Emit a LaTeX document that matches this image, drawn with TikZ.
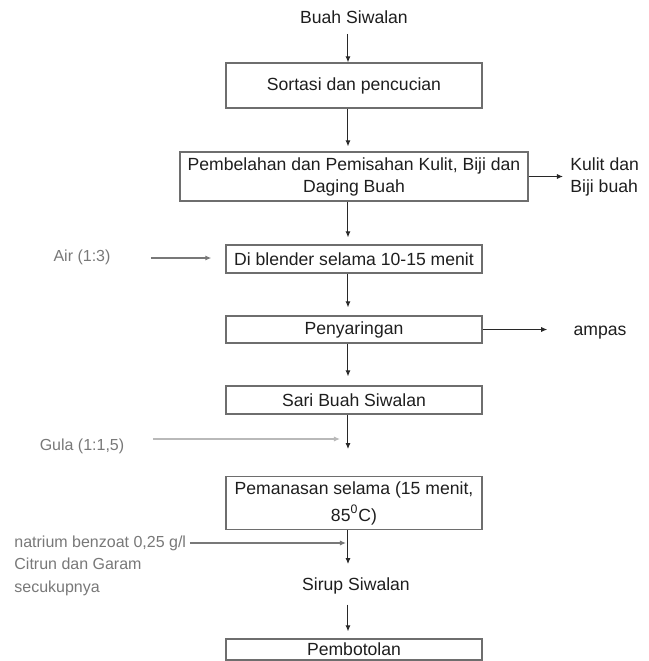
\documentclass[tikz,border=0pt]{standalone}
\usepackage{fontspec}
\setmainfont{Liberation Sans}
\usepackage{tikz}
\usetikzlibrary{arrows.meta}
\usepackage{xcolor}
\definecolor{txtclr}{RGB}{30, 30, 30}
\definecolor{sideclr}{RGB}{120,120,120}
\definecolor{boxclr}{RGB}{110,110,110}
\definecolor{lineclr}{RGB}{40, 40, 40}
\definecolor{liteclr}{RGB}{185,185,185}
\tikzset{
  % Kotak proses
  procbox/.style  = {draw=boxclr, line width=0.7pt, minimum width=128pt,
                     inner sep=1pt, align=center, text=txtclr,
                     font=\fontsize{8.8}{11}\selectfont},
  % Teks biasa dan teks samping
  lab/.style      = {inner sep=1pt, text=txtclr, font=\fontsize{8.8}{11}\selectfont},
  sidelab/.style  = {inner sep=1pt, text=sideclr, align=left,
                     font=\fontsize{8}{11.3}\selectfont},
  % Panah
  arr/.style      = {-{Latex[length=3pt,width=2.6pt]}, line width=0.5pt, lineclr},
  arrgray/.style  = {-{Latex[length=3pt,width=2.6pt]}, line width=0.6pt, sideclr},
  arrlite/.style  = {-{Latex[length=3pt,width=2.6pt]}, line width=0.7pt, liteclr},
}
\begin{document}
\begin{tikzpicture}[x=0.5pt, y=-0.5pt]
  \useasboundingbox (0,0) rectangle (649,661);
  % Garis alir utama
  \coordinate (spine) at (348,0);
  % Bahan dan kotak proses
  \node[lab] (buah) at (354,17) {Buah Siwalan};
  \node[procbox, minimum height=22.5pt] (sortasi) at (354,85.5) {Sortasi dan pencucian};
  \node[procbox, minimum width=174pt, minimum height=24.5pt] (belah) at (354,176.5)
    {Pembelahan dan Pemisahan Kulit, Biji dan\\Daging Buah};
  \node[procbox, minimum height=14pt] (blender) at (354,259) {Di blender selama 10-15 menit};
  \node[procbox, minimum height=13.5pt] (saring) at (354,329.5) {Penyaringan};
  \node[procbox, minimum height=14pt] (sari) at (354,400) {Sari Buah Siwalan};
  \node[procbox, minimum height=26.5pt, font=\fontsize{8.8}{13.5}\selectfont] (panas) at (354,503)
    {Pemanasan selama (15 menit,\\85\textsuperscript{0}C)};
  \node[lab] (sirup) at (356,586) {Sirup Siwalan};
  \node[procbox, minimum height=10.5pt] (botol) at (354,649.5) {Pembotolan};
  % Keluaran samping
  \node[lab, anchor=west, align=left] (kulit) at (568,177) {Kulit dan\\Biji buah};
  \node[lab] (ampas) at (600,333) {ampas};
  % Bahan tambahan
  \node[sidelab] (air) at (82,257) {Air (1:3)};
  \node[sidelab] (gula) at (82,446) {Gula (1:1,5)};
  \node[sidelab, anchor=north west] (natrium) at (12,533)
    {natrium benzoat 0,25 g/l\\Citrun dan Garam\\secukupnya};
  % Titik bebas
  \coordinate (gulatip) at (348,449);
  \coordinate (panastip) at (348,564);
  \coordinate (airout) at (151,258);
  \coordinate (gulaout) at (153,439);
  \coordinate (gulain) at (340,439);
  \coordinate (natout) at (190,543);
  \coordinate (natin) at (346,543);
  % Panah utama
  \draw[arr, shorten <=4pt] (buah.south -| spine) -- (sortasi.north -| spine);
  \draw[arr, shorten >=2.5pt] (sortasi.south -| spine) -- (belah.north -| spine);
  \draw[arr, shorten >=3.5pt] (belah.south -| spine) -- (blender.north -| spine);
  \draw[arr, shorten >=4pt] (blender.south -| spine) -- (saring.north -| spine);
  \draw[arr, shorten >=4.5pt] (saring.south -| spine) -- (sari.north -| spine);
  \draw[arr] (sari.south -| spine) -- (gulatip);
  \draw[arr] (panas.south -| spine) -- (panastip);
  \draw[arr, shorten <=4pt, shorten >=3.5pt] (sirup.south -| spine) -- (botol.north -| spine);
  % Panah samping
  \draw[arr, shorten >=2.5pt] (belah.east) -- (kulit.west |- belah.east);
  \draw[arr, shorten >=12pt] (saring.east) -- (ampas.west |- saring.east);
  \draw[arrgray, shorten >=7pt] (airout) -- (blender.west |- airout);
  \draw[arrlite] (gulaout) -- (gulain);
  \draw[arrgray] (natout) -- (natin);
\end{tikzpicture}
\end{document}
